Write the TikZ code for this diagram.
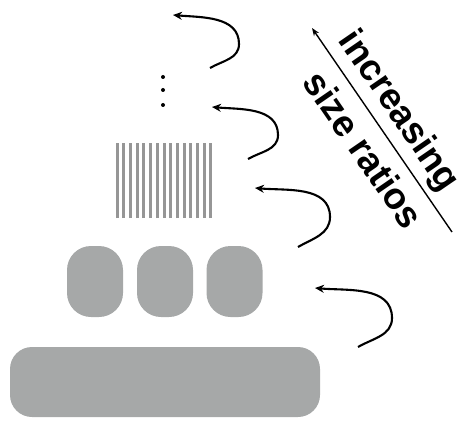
\documentclass[tikz,border=0pt]{standalone}
\usepackage{fontspec}
\setmainfont{Liberation Sans}
\usetikzlibrary{arrows.meta,calc}
\begin{document}
\begin{tikzpicture}[x=1pt,y=1pt,
  blob/.style={fill=blobgray, draw=none, rounded corners=24pt},
  stripe/.style={draw=stripegray, line width=3pt},
  curl/.style={line width=2.1pt, -{Stealth[length=9pt,width=8pt]}},
  label/.style={font=\bfseries\fontsize{37}{40}\selectfont, rotate=-55.5, inner sep=0pt}]
\definecolor{blobgray}{RGB}{166,168,168}
\definecolor{stripegray}{RGB}{150,150,150}
\useasboundingbox (0,0) rectangle (460,421);
% base bar
\fill[blobgray, rounded corners=22pt] (10,4) rectangle (320,74);
% three blobs
\foreach \cx in {95,165,234.5}{
  \fill[blob] (\cx-28,104) rectangle (\cx+28,175);
}
% stripes
\foreach \i in {0,...,14}{
  \draw[stripe] (117+\i*6.714,203) -- (117+\i*6.714,278);
}
% dots
\foreach \y in {344,331,316}{
  \fill (163,\y) circle (2pt);
}
% curled arrows
\coordinate (s1) at (210,353); \coordinate (r1) at (239,377); \coordinate (h1) at (173,406);
\coordinate (s2) at (248,262); \coordinate (r2) at (278,286); \coordinate (h2) at (212,314);
\coordinate (s3) at (298,174); \coordinate (r3) at (330,204); \coordinate (h3) at (255,233);
\coordinate (s4) at (358,74);  \coordinate (r4) at (392,103); \coordinate (h4) at (315,133);
\foreach \k in {1,2,3,4}{
  \draw[curl] (s\k) to[out=30,in=-90] (r\k) to[out=90,in=-5] (h\k);
}
% diagonal arrow
\coordinate (la) at (452,189);
\coordinate (lb) at (312,393);
\draw[line width=1.4pt, -{Stealth[length=8pt,width=6pt]}] (la) -- (lb);
\node[label, anchor=base] (inc) at ([shift={(-6*0.566+14*0.8246, 6*0.8246+14*0.566)}]382,291) {increasing};
\node[label, anchor=base] (siz) at ([shift={(6*0.566-39*0.8246, -6*0.8246-39*0.566)}]382,291) {size ratios};
\end{tikzpicture}
\end{document}
